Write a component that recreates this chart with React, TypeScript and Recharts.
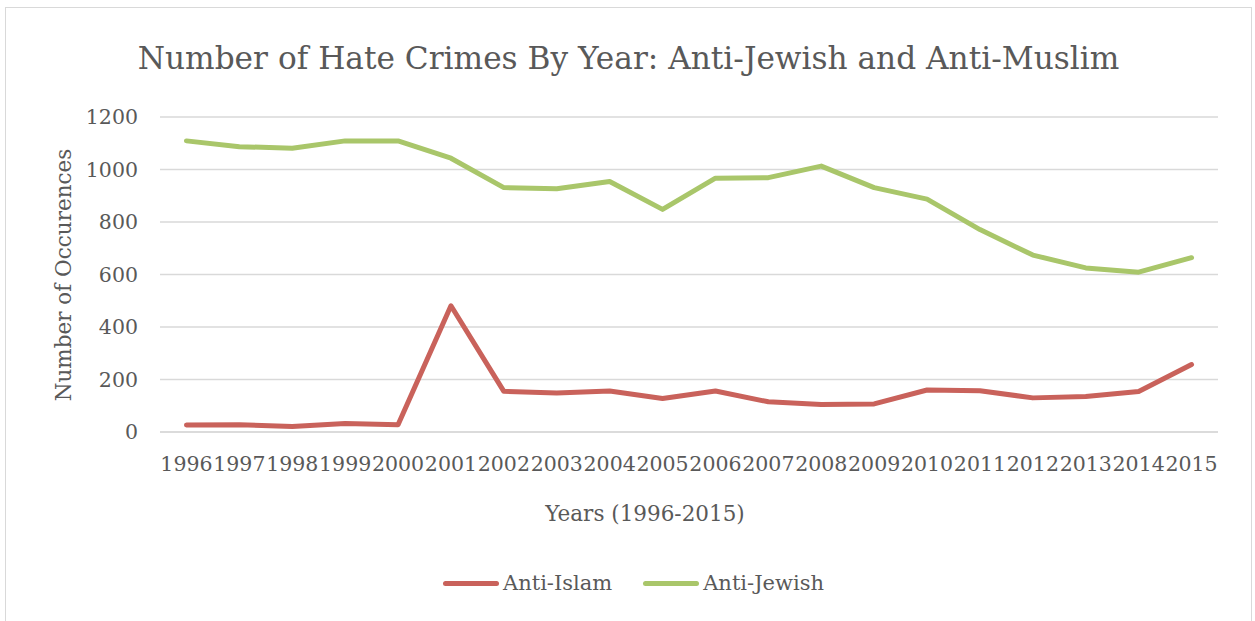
import React from "react"
import {
  LineChart,
  Line,
  XAxis,
  YAxis,
  CartesianGrid,
  Legend,
} from "recharts"

const years = [
  "1996", "1997", "1998", "1999", "2000", "2001", "2002", "2003", "2004", "2005",
  "2006", "2007", "2008", "2009", "2010", "2011", "2012", "2013", "2014", "2015",
]
const antiIslam = [27, 28, 21, 32, 28, 481, 155, 149, 156, 128, 156, 115, 105, 107, 160, 157, 130, 135, 154, 257]
const antiJewish = [1109, 1087, 1081, 1109, 1109, 1043, 931, 927, 954, 848, 967, 969, 1013, 931, 887, 771, 674, 625, 609, 664]
const yTicks = [0, 200, 400, 600, 800, 1000, 1200]

const RED = "#C9625B"
const GREEN = "#A9C66A"
const TEXT = "#595959"
const GRID = "#D9D9D9"
const FONT = "'DejaVu Serif', serif"

const data = years.map((year, i) => ({
  year,
  islam: antiIslam[i],
  jewish: antiJewish[i],
}))

function LegendContent() {
  const items = [
    { name: "Anti-Islam", color: RED },
    { name: "Anti-Jewish", color: GREEN },
  ]
  return (
    <div style={{ display: "flex", justifyContent: "center", gap: 31, paddingLeft: 10, fontFamily: FONT, fontSize: 21, color: TEXT, height: 24, lineHeight: "24px" }}>
      {items.map((it) => (
        <div key={it.name} style={{ display: "flex", alignItems: "center" }}>
          <span style={{ display: "inline-block", width: 56, height: 5, borderRadius: 3, background: it.color, marginRight: 4 }} />
          <span>{it.name}</span>
        </div>
      ))}
    </div>
  )
}

export default function App() {
  return (
    <div
      style={{
        position: "absolute",
        left: 5,
        top: 7,
        width: 1247,
        height: 630,
        border: `1px solid ${GRID}`,
        boxSizing: "border-box",
        background: "#fff",
      }}
    >
      <div
        style={{
          position: "absolute",
          top: 31,
          left: 0,
          width: 1245,
          textAlign: "center",
          fontFamily: FONT,
          fontSize: 31.2,
          color: TEXT,
          lineHeight: "38px",
        }}
      >
        Number of Hate Crimes By Year: Anti-Jewish and Anti-Muslim
      </div>
      <LineChart
        width={1245}
        height={615}
        data={data}
        margin={{ top: 109, right: 33, left: 0, bottom: 0 }}
      >
        <CartesianGrid vertical={false} stroke={GRID} strokeWidth={1.3} />
        <XAxis
          dataKey="year"
          interval={0}
          height={167}
          padding={{ left: 26.45, right: 26.45 }}
          tickLine={false}
          tickSize={0}
          tickMargin={24}
          axisLine={{ stroke: GRID, strokeWidth: 1.3 }}
          tick={{ fontSize: 20.5, fill: TEXT, fontFamily: FONT }}
          label={(props: any) => (
            <text x={639} y={505} textAnchor="middle" dominantBaseline="central" fontSize={21.5} fill={TEXT} fontFamily={FONT}>
              Years (1996-2015)
            </text>
          )}
        />
        <YAxis
          width={154}
          domain={[0, 1200]}
          ticks={yTicks}
          tickLine={false}
          tickSize={0}
          tickMargin={22}
          axisLine={false}
          tick={{ fontSize: 20.5, fill: TEXT, fontFamily: FONT }}
          label={(props: any) => (
            <text
              x={57}
              y={267}
              transform="rotate(-90 57 267)"
              textAnchor="middle"
              dominantBaseline="central"
              fontSize={21.5}
              fill={TEXT}
              fontFamily={FONT}
            >
              Number of Occurences
            </text>
          )}
        />
        <Legend content={<LegendContent />} wrapperStyle={{ top: 563, left: 0, width: 1245 }} />
        <Line
          type="linear"
          dataKey="islam"
          name="Anti-Islam"
          stroke={RED}
          strokeWidth={5}
          strokeLinecap="round"
          strokeLinejoin="round"
          dot={false}
          isAnimationActive={false}
        />
        <Line
          type="linear"
          dataKey="jewish"
          name="Anti-Jewish"
          stroke={GREEN}
          strokeWidth={5}
          strokeLinecap="round"
          strokeLinejoin="round"
          dot={false}
          isAnimationActive={false}
        />
      </LineChart>
    </div>
  )
}
